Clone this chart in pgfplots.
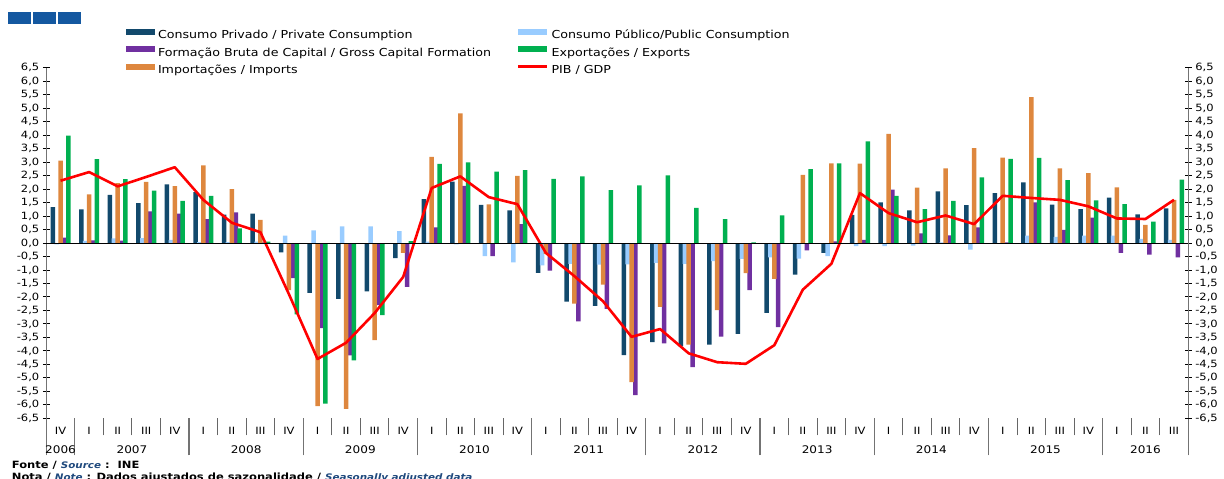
\documentclass[border=0pt]{standalone}
\usepackage{pgfplots}
\pgfplotsset{compat=1.18}
\usepackage{pgfplotstable}
\usepackage{fontspec}
\setmainfont[FakeStretch=1.15]{DejaVu Sans}
\definecolor{cpcol}{RGB}{18,73,108}
\definecolor{cpubcol}{RGB}{153,204,255}
\definecolor{fbccol}{RGB}{112,48,160}
\definecolor{expcol}{RGB}{0,176,80}
\definecolor{impcol}{RGB}{222,135,62}
\definecolor{pibcol}{RGB}{255,0,0}
\definecolor{hdrcol}{RGB}{20,88,160}
\definecolor{srccol}{RGB}{31,73,125}

\pgfplotstableread{
x cp cpub fbc exp imp pib
0 1.33 -0.05 0.20 3.98 3.05 2.31
1 1.25 0.08 0.10 3.11 1.80 2.63
2 1.78 0.17 0.09 2.37 2.22 2.10
3 1.48 0.18 1.17 1.94 2.27 2.45
4 2.17 0.12 1.09 1.56 2.11 2.81
5 1.89 0.03 0.89 1.75 2.88 1.60
6 1.05 0.03 1.14 0.54 2.00 0.75
7 1.09 0.05 0.02 0.05 0.86 0.40
8 -0.35 0.27 -1.30 -2.65 -1.75 -1.90
9 -1.85 0.47 -3.16 -5.96 -6.05 -4.30
10 -2.07 0.62 -4.17 -4.35 -6.15 -3.70
11 -1.79 0.62 -2.30 -2.67 -3.60 -2.60
12 -0.56 0.44 -1.63 0.07 -0.37 -1.26
13 1.63 0.05 0.58 2.93 3.19 2.04
14 2.28 -0.05 2.12 2.99 4.81 2.47
15 1.41 -0.49 -0.49 2.65 1.43 1.70
16 1.21 -0.72 0.70 2.70 2.49 1.44
17 -1.11 -0.83 -1.02 2.38 -0.40 -0.37
18 -2.17 -0.77 -2.91 2.47 -2.25 -1.23
19 -2.33 -0.80 -2.44 1.96 -1.54 -2.16
20 -4.16 -0.79 -5.64 2.14 -5.16 -3.48
21 -3.68 -0.74 -3.72 2.51 -2.37 -3.19
22 -3.83 -0.77 -4.60 1.30 -3.77 -4.09
23 -3.77 -0.67 -3.47 0.89 -2.49 -4.42
24 -3.37 -0.59 -1.75 0.02 -1.12 -4.48
25 -2.59 -0.53 -3.12 1.02 -1.33 -3.79
26 -1.17 -0.58 -0.27 2.74 2.53 -1.73
27 -0.37 -0.49 0.06 2.95 2.95 -0.77
28 1.04 -0.12 0.12 3.77 2.94 1.85
29 1.51 -0.12 1.98 1.75 4.05 1.11
30 1.21 -0.10 0.36 1.26 2.05 0.77
31 1.91 0.02 0.28 1.56 2.77 1.02
32 1.40 -0.25 0.58 2.43 3.52 0.70
33 1.85 -0.03 0.02 3.12 3.17 1.75
34 2.25 0.27 1.51 3.16 5.41 1.67
35 1.42 0.23 0.49 2.33 2.77 1.60
36 1.26 0.27 0.94 1.58 2.59 1.36
37 1.68 0.27 -0.37 1.44 2.06 0.91
38 1.06 0.15 -0.43 0.79 0.67 0.89
39 1.28 0.12 -0.53 2.35 1.60 1.60
}\datatable

\pgfplotsset{
  barleg/.style={legend image code/.code={\fill[##1] (0pt,0.7pt) rectangle (29pt,6.7pt);}},
  lineleg/.style={legend image code/.code={\draw[##1] (0pt,3.7pt) -- (29pt,3.7pt);}},
  commonax/.style={
    at={(46.3pt,60.7pt)}, anchor=south west,
    width=1142pt, height=350.6pt, scale only axis,
    xmin=-0.5, xmax=39.5, ymin=-6.5, ymax=6.5,
    ytick={-6.5,-6,...,6.5},
    ytick align=center,
    major tick length=7pt,
    ytick style={black, line width=0.9pt},
    y axis line style={-, black!55, line width=1.3pt},
    scaled y ticks=false,
    yticklabel style={font=\fontsize{10}{12}\selectfont,
      /pgf/number format/fixed, /pgf/number format/fixed zerofill,
      /pgf/number format/precision=1, /pgf/number format/use comma,
      /pgf/number format/assume math mode=true},
  },
}

\begin{document}
\begin{tikzpicture}[x=1pt,y=1pt]
\useasboundingbox (0,0) rectangle (1224,479);
% header blocks
\fill[hdrcol] (8.3,455) rectangle (31.3,467.3);
\fill[hdrcol] (32.7,455) rectangle (56.2,467.3);
\fill[hdrcol] (57.6,455) rectangle (80.7,467.3);

\begin{axis}[commonax,
  clip=false,
  axis y line*=left, axis x line*=bottom,
  x axis line style={draw=none},
  xtick={0,...,39},
  xticklabels={IV,I,II,III,IV,I,II,III,IV,I,II,III,IV,I,II,III,IV,I,II,III,IV,I,II,III,IV,I,II,III,IV,I,II,III,IV,I,II,III,IV,I,II,III},
  xticklabel style={font=\fontsize{10}{12}\selectfont, anchor=center, yshift=-5.5pt},
  major x tick style={draw=none},
  xtick align=outside,
  minor xtick={-0.5,0.5,...,39.5},
  minor tick length=17pt,
  minor x tick style={black!60, line width=0.9pt},
  extra x ticks={-0.5,0.5,4.5,8.5,12.5,16.5,20.5,24.5,28.5,32.5,36.5,39.5},
  extra x tick labels={},
  extra x tick style={major tick length=37pt, xtick align=outside,
     major x tick style={draw=black!55, line width=1.3pt}},
  ybar, bar width=4.5pt,
  legend columns=2,
  legend cell align=left,
  legend style={at={(axis description cs:0.0698,1.110)}, anchor=north west,
    draw=none, fill=none, inner sep=0pt, outer sep=0pt,
    font=\fontsize{11}{13}\selectfont, row sep=5pt, column sep=3pt,
    nodes={inner sep=0pt, text height=8.5pt, text depth=2.5pt}},
]
\addplot[barleg, fill=cpcol, draw=none, bar shift=-7.8pt] table[x=x,y=cp]{\datatable};
\addlegendentry{\makebox[356pt][l]{Consumo Privado / Private Consumption}}
\addplot[barleg, fill=cpubcol, draw=none, bar shift=-3.9pt] table[x=x,y=cpub]{\datatable};
\addlegendentry{Consumo Público/Public Consumption}
\addplot[barleg, fill=fbccol, draw=none, bar shift=3.9pt] table[x=x,y=fbc]{\datatable};
\addlegendentry{\makebox[356pt][l]{Formação Bruta de Capital / Gross Capital Formation}}
\addplot[barleg, fill=expcol, draw=none, bar shift=7.8pt] table[x=x,y=exp]{\datatable};
\addlegendentry{Exportações / Exports}
\addplot[barleg, fill=impcol, draw=none, bar shift=0pt] table[x=x,y=imp]{\datatable};
\addlegendentry{\makebox[356pt][l]{Importações / Imports}}
\addplot[sharp plot, lineleg, pibcol, line width=2.6pt, mark=none, line join=round] table[x=x,y=pib]{\datatable};
\addlegendentry{PIB / GDP}

\node[font=\fontsize{10.5}{12}\selectfont] at (axis cs:0,-6.5) [yshift=-30.9pt] {2006};
\node[font=\fontsize{10.5}{12}\selectfont] at (axis cs:2.5,-6.5) [yshift=-30.9pt] {2007};
\node[font=\fontsize{10.5}{12}\selectfont] at (axis cs:6.5,-6.5) [yshift=-30.9pt] {2008};
\node[font=\fontsize{10.5}{12}\selectfont] at (axis cs:10.5,-6.5) [yshift=-30.9pt] {2009};
\node[font=\fontsize{10.5}{12}\selectfont] at (axis cs:14.5,-6.5) [yshift=-30.9pt] {2010};
\node[font=\fontsize{10.5}{12}\selectfont] at (axis cs:18.5,-6.5) [yshift=-30.9pt] {2011};
\node[font=\fontsize{10.5}{12}\selectfont] at (axis cs:22.5,-6.5) [yshift=-30.9pt] {2012};
\node[font=\fontsize{10.5}{12}\selectfont] at (axis cs:26.5,-6.5) [yshift=-30.9pt] {2013};
\node[font=\fontsize{10.5}{12}\selectfont] at (axis cs:30.5,-6.5) [yshift=-30.9pt] {2014};
\node[font=\fontsize{10.5}{12}\selectfont] at (axis cs:34.5,-6.5) [yshift=-30.9pt] {2015};
\node[font=\fontsize{10.5}{12}\selectfont] at (axis cs:38,-6.5) [yshift=-30.9pt] {2016};
\end{axis}

\begin{axis}[commonax,
  axis y line*=right, axis x line*=middle,
  x axis line style={-, black, line width=1pt},
  xtick=\empty,
  minor xtick={-0.5,0.5,...,39.5},
  minor tick length=3pt,
  xtick align=outside,
  minor x tick style={black!70, line width=0.8pt},
]
\end{axis}

\node[anchor=base west, inner sep=0pt, font=\fontsize{10}{12}\selectfont\bfseries] at (11.7,10.7)
  {Fonte / {\color{srccol}\itshape\fontsize{9}{10}\selectfont Source} :\ \ INE};
\node[anchor=base west, inner sep=0pt, font=\fontsize{10}{12}\selectfont\bfseries] at (11.7,-1.5)
  {Nota / {\color{srccol}\itshape\fontsize{9}{10}\selectfont Note} : Dados ajustados de sazonalidade / {\color{srccol}\itshape\fontsize{9}{10}\selectfont Seasonally adjusted data}};
\end{tikzpicture}
\end{document}
